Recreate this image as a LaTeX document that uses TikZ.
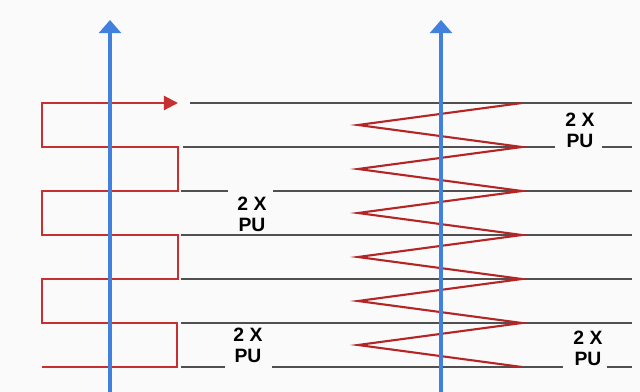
\documentclass[tikz,border=0pt]{standalone}
\usepackage{fontspec}
\setsansfont{Liberation Sans}
\usepackage{tikz}
\usetikzlibrary{arrows.meta}
\definecolor{axisblue}{RGB}{66,128,222}
\definecolor{wavered}{RGB}{198,48,48}
\definecolor{zigred}{RGB}{180,38,38}
\definecolor{guide}{RGB}{80,80,80}
\definecolor{paper}{RGB}{250,250,250}

\begin{document}
\begin{tikzpicture}[x=0.02cm,y=-0.02cm,
  guideline/.style={guide,line width=0.75pt},
  axis/.style={axisblue,line width=1.8pt,-{Triangle[width=12.5pt,length=7.5pt]}},
  pulabel/.style={font=\sffamily\bfseries\fontsize{11}{12}\selectfont,align=center,inner sep=0pt}]
\useasboundingbox (0,0) rectangle (640,392);
\fill[paper] (0,0) rectangle (640,392);

% guide lines (some broken for the labels)
\draw[guideline] (190,103) -- (632,103);
\draw[guideline] (183,147) -- (555,147) (602,147) -- (632,147);
\draw[guideline] (181,191) -- (228,191) (273,191) -- (632,191);
\draw[guideline] (181,235) -- (632,235);
\draw[guideline] (181,279) -- (632,279);
\draw[guideline] (181,323) -- (632,323);
\draw[guideline] (181,367) -- (225,367) (272,367) -- (563,367) (607,367) -- (632,367);

% square wave, left
\coordinate (sqstart) at (42,367);
\coordinate (sqend) at (178,103);
\draw[wavered,line width=1.2pt,line join=miter,-{Triangle[width=8pt,length=8pt]}]
  (sqstart) -- (177,367) -- (177,323) -- (42,323) -- (42,279) -- (178,279)
  -- (178,235) -- (42,235) -- (42,191) -- (178,191) -- (178,147)
  -- (42,147) -- (42,103) -- (sqend);

% zigzag, right
\draw[zigred,line width=1.2pt]
  (522,103) -- (358,125) -- (522,147) -- (358,169) -- (522,191)
  -- (358,213) -- (522,235) -- (358,257) -- (522,279)
  -- (358,301) -- (522,323) -- (358,345) -- (522,367);

% blue axes
\coordinate (axLbot) at (110,392);
\coordinate (axLtop) at (110,20);
\coordinate (axRbot) at (441,392);
\coordinate (axRtop) at (441,20);
\draw[axis] (axLbot) -- (axLtop);
\draw[axis] (axRbot) -- (axRtop);

% labels
\node[pulabel] (puA) at (252,214) {2 X\\PU};
\node[pulabel] (puB) at (248,345) {2 X\\PU};
\node[pulabel] (puC) at (580,130) {2 X\\PU};
\node[pulabel] (puD) at (588,348) {2 X\\PU};
\end{tikzpicture}
\end{document}
